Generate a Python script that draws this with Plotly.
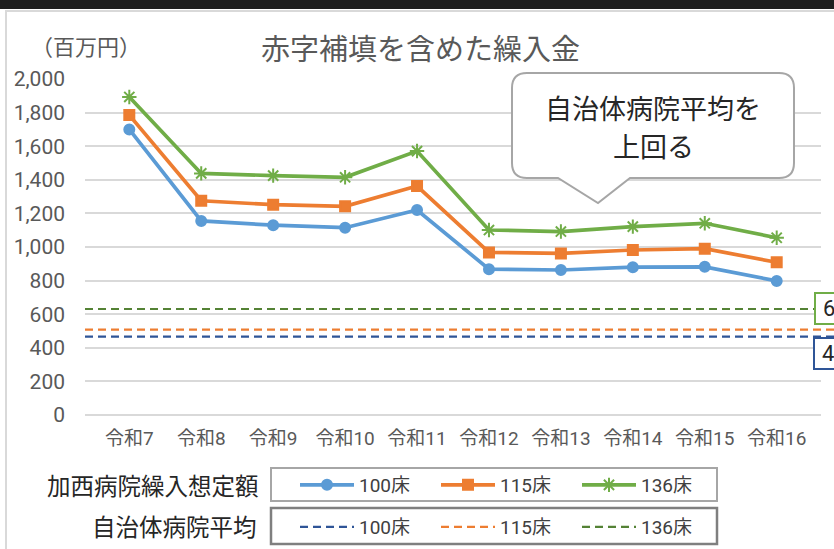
import plotly.graph_objects as go

W, H = 834, 549

categories = ["令和7", "令和8", "令和9", "令和10", "令和11",
              "令和12", "令和13", "令和14", "令和15", "令和16"]
kasai_100 = [1700, 1155, 1130, 1115, 1220, 868, 863, 880, 882, 798]
kasai_115 = [1785, 1275, 1252, 1242, 1363, 968, 962, 982, 990, 909]
kasai_136 = [1893, 1438, 1425, 1415, 1571, 1101, 1092, 1121, 1141, 1055]
avg_names = ["100床", "115床", "136床"]
avg_values = [466, 508, 631]
series_names = ["100床", "115床", "136床"]
y_ticks = [0, 200, 400, 600, 800, 1000, 1200, 1400, 1600, 1800, 2000]

title_text = "赤字補填を含めた繰入金"
unit_text = "（百万円）"
legend1_label = "加西病院繰入想定額"
legend2_label = "自治体病院平均"
bubble_lines = ["自治体病院平均を", "上回る"]


def X(px):
    return px / W


def Y(py):
    return 1 - py / H


FONT = "Roboto, 'Noto Sans CJK JP', sans-serif"
CJK = "'Noto Sans CJK JP', sans-serif"
TXT = "#595959"

fig = go.Figure()

main_colors = ["#5B9BD5", "#ED7D31", "#70AD47"]
main_symbols = ["circle", "square", "asterisk-open"]
main_sizes = [10, 10, 12]
for name, vals, col, sym, sz in zip(series_names, [kasai_100, kasai_115, kasai_136],
                                    main_colors, main_symbols, main_sizes):
    fig.add_trace(go.Scatter(
        x=categories, y=vals, name=name, mode="lines+markers",
        line=dict(color=col, width=3.7),
        marker=dict(symbol=sym, size=sz, color=col, line=dict(color=col, width=2)),
        legend="legend", xaxis="x", yaxis="y", hoverinfo="skip"))

avg_colors = ["#2F5597", "#ED7D31", "#548235"]
for name, v, col in zip(avg_names, avg_values, avg_colors):
    fig.add_trace(go.Scatter(
        x=[0, 1], y=[v, v], name=name, mode="lines",
        line=dict(color=col, width=2.2, dash="8px,5px"),
        legend="legend2", xaxis="x2", yaxis="y2", hoverinfo="skip"))

ydom = [Y(415), Y(79)]
fig.update_layout(
    width=W, height=H, margin=dict(l=0, r=0, t=0, b=0),
    paper_bgcolor="white", plot_bgcolor="rgba(0,0,0,0)",
    font=dict(family=FONT, color=TXT),
    xaxis=dict(domain=[X(85), X(821)], type="category", showgrid=False,
               zeroline=False, showline=False, ticks="",
               tickfont=dict(size=19, color=TXT, family=FONT),
               ticklabelstandoff=10, automargin=False, fixedrange=True),
    yaxis=dict(domain=ydom, range=[0, 2000], tickvals=y_ticks, tickformat=",",
               showgrid=True, gridcolor="#d9d9d9", gridwidth=1.5,
               zeroline=True, zerolinecolor="#d9d9d9", zerolinewidth=1.5,
               showline=False, ticks="",
               tickfont=dict(size=21, color=TXT, family=FONT),
               ticklabelstandoff=19, automargin=False, fixedrange=True),
    xaxis2=dict(domain=[X(85), 1.0], range=[0, 1], visible=False, anchor="y2",
                fixedrange=True),
    yaxis2=dict(domain=ydom, range=[0, 2000], visible=False, anchor="x2",
                fixedrange=True),
    legend=dict(orientation="h", x=X(295), y=Y(485), xanchor="left", yanchor="middle",
                bgcolor="rgba(0,0,0,0)", borderwidth=0, itemwidth=54,
                entrywidth=72, entrywidthmode="pixels",
                font=dict(size=19, color="#404040", family=FONT)),
    legend2=dict(orientation="h", x=X(295), y=Y(527), xanchor="left", yanchor="middle",
                 bgcolor="rgba(0,0,0,0)", borderwidth=0, itemwidth=54,
                 entrywidth=72, entrywidthmode="pixels",
                 font=dict(size=19, color="#404040", family=FONT)),
    showlegend=True,
)

shapes = []
# dark band at top
shapes.append(dict(type="rect", xref="paper", yref="paper", x0=-0.01, x1=1.01,
                   y0=Y(9), y1=1.01, fillcolor="#1e1e1e", line=dict(width=0),
                   layer="below"))
# chart frame
shapes.append(dict(type="rect", xref="paper", yref="paper", x0=X(6), x1=1.05,
                   y0=-0.05, y1=Y(11), fillcolor="rgba(0,0,0,0)",
                   line=dict(color="#d9d9d9", width=2), layer="below"))
# legend boxes
shapes.append(dict(type="rect", xref="paper", yref="paper", x0=X(271), x1=X(717),
                   y0=Y(501), y1=Y(468), line=dict(color="#a6a6a6", width=2),
                   fillcolor="rgba(0,0,0,0)"))
shapes.append(dict(type="rect", xref="paper", yref="paper", x0=X(271), x1=X(717),
                   y0=Y(544), y1=Y(508), line=dict(color="#7f7f7f", width=2.5),
                   fillcolor="rgba(0,0,0,0)"))
# speech bubble
r = 15
bx0, bx1, by0, by1 = 512, 794, 73, 178
pts = [("M", bx0 + r, by0), ("L", bx1 - r, by0), ("Q", bx1, by0, bx1, by0 + r),
       ("L", bx1, by1 - r), ("Q", bx1, by1, bx1 - r, by1), ("L", 630, by1),
       ("L", 598, 203), ("L", 558, by1), ("L", bx0 + r, by1),
       ("Q", bx0, by1, bx0, by1 - r), ("L", bx0, by0 + r),
       ("Q", bx0, by0, bx0 + r, by0)]
path = ""
for p in pts:
    cmd = p[0]
    coords = p[1:]
    seg = []
    for i in range(0, len(coords), 2):
        seg.append(f"{X(coords[i]):.5f},{Y(coords[i + 1]):.5f}")
    path += cmd + " ".join(seg) + " "
path += "Z"
shapes.append(dict(type="path", xref="paper", yref="paper", path=path,
                   fillcolor="white", line=dict(color="#a6a6a6", width=2),
                   layer="above"))
fig.update_layout(shapes=shapes)

ann = []
ann.append(dict(text=title_text, x=X(420), y=Y(47), xref="paper", yref="paper",
                showarrow=False, font=dict(size=29, color=TXT, family=CJK),
                xanchor="center", yanchor="middle"))
ann.append(dict(text=unit_text, x=X(86), y=Y(45), xref="paper", yref="paper",
                showarrow=False, font=dict(size=22, color=TXT, family=CJK),
                xanchor="center", yanchor="middle"))
ann.append(dict(text=legend1_label, x=X(261), y=Y(485), xref="paper", yref="paper",
                showarrow=False, font=dict(size=23.5, color="#262626", family=CJK),
                xanchor="right", yanchor="middle"))
ann.append(dict(text=legend2_label, x=X(259), y=Y(526), xref="paper", yref="paper",
                showarrow=False, font=dict(size=23.5, color="#262626", family=CJK),
                xanchor="right", yanchor="middle"))
ann.append(dict(text=bubble_lines[0], x=X(653), y=Y(107), xref="paper", yref="paper",
                showarrow=False, font=dict(size=27, color="#262626", family=CJK),
                xanchor="center", yanchor="middle"))
ann.append(dict(text=bubble_lines[1], x=X(653), y=Y(145), xref="paper", yref="paper",
                showarrow=False, font=dict(size=27, color="#262626", family=CJK),
                xanchor="center", yanchor="middle"))
# data labels of the average lines (cut off at the right edge, as in the reference)
ann.append(dict(text=str(avg_values[2]), x=X(814), y=avg_values[2], xref="paper",
                yref="y", showarrow=False, xanchor="left", yanchor="middle",
                width=42, align="right",
                font=dict(size=22, color="#262626", family=FONT),
                bgcolor="white", bordercolor="#70AD47", borderwidth=2, borderpad=2))
ann.append(dict(text=str(avg_values[0]), x=X(813), y=avg_values[0], xref="paper",
                yref="y", showarrow=False, xanchor="left", yanchor="top",
                width=42, align="right",
                font=dict(size=22, color="#262626", family=FONT),
                bgcolor="white", bordercolor="#2F5597", borderwidth=2, borderpad=2))
fig.update_layout(annotations=ann)

fig.write_html("out.html",
               config={"displayModeBar": False},
               post_script="document.body.style.margin='0px';"
                           "document.body.style.overflow='hidden';")
